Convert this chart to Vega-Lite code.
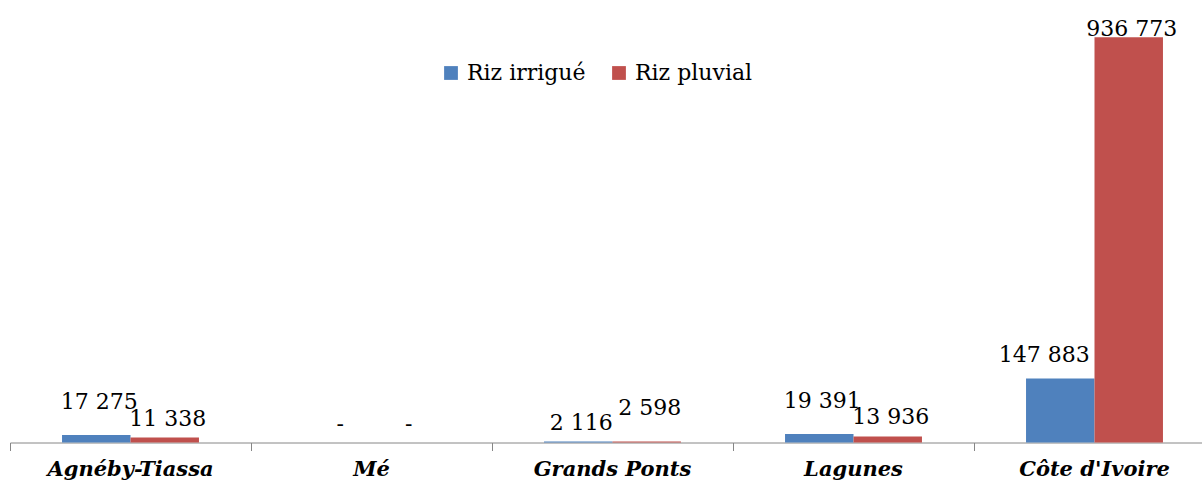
{
  "$schema": "https://vega.github.io/schema/vega-lite/v6.json",
  "width": 1192,
  "height": 432.5,
  "autosize": {"type": "none"},
  "padding": {"left": 10, "top": 10, "right": 0, "bottom": 43.5},
  "config": {
    "view": {"stroke": null},
    "font": "DejaVu Serif",
    "locale": {"number": {"decimal": ",", "thousands": " ", "grouping": [3], "currency": ["", " €"]}}
  },
  "data": {
    "values": [
      {"region": "Agnéby-Tiassa", "type": "Riz irrigué", "value": 17275},
      {"region": "Agnéby-Tiassa", "type": "Riz pluvial", "value": 11338},
      {"region": "Mé", "type": "Riz irrigué", "value": 0},
      {"region": "Mé", "type": "Riz pluvial", "value": 0},
      {"region": "Grands Ponts", "type": "Riz irrigué", "value": 2116},
      {"region": "Grands Ponts", "type": "Riz pluvial", "value": 2598},
      {"region": "Lagunes", "type": "Riz irrigué", "value": 19391},
      {"region": "Lagunes", "type": "Riz pluvial", "value": 13936},
      {"region": "Côte d'Ivoire", "type": "Riz irrigué", "value": 147883},
      {"region": "Côte d'Ivoire", "type": "Riz pluvial", "value": 936773}
    ]
  },
  "encoding": {
    "x": {
      "field": "region", "type": "nominal", "sort": null,
      "scale": {"range": [0, 1205], "paddingInner": 0, "paddingOuter": 0},
      "axis": {
        "title": null, "bandPosition": 0, "labelAngle": 0,
        "labelFont": "DejaVu Serif", "labelFontSize": 21, "labelFontWeight": "bold",
        "labelFontStyle": "italic", "labelColor": "black", "domainColor": "#868686",
        "tickColor": "#868686", "tickSize": 8, "labelPadding": 8, "grid": false, "domainWidth": 1, "tickWidth": 1
      }
    },
    "xOffset": {"field": "type", "type": "nominal", "sort": ["Riz irrigué", "Riz pluvial"], "scale": {"paddingOuter": 0.76, "paddingInner": 0}},
    "y": {"field": "value", "type": "quantitative", "scale": {"domain": [0, 1000000], "nice": false}, "axis": null},
    "text": {"condition": {"test": "datum.value == 0", "value": "-"}, "field": "value", "type": "quantitative", "format": ",d"}
  },
  "layer": [
    {
      "mark": {"type": "bar"},
      "encoding": {
        "color": {
          "field": "type", "type": "nominal",
          "scale": {"domain": ["Riz irrigué", "Riz pluvial"], "range": ["#4F81BD", "#C0504D"]},
          "legend": {
            "title": null, "orient": "none", "direction": "horizontal", "legendX": 430, "legendY": 52,
            "symbolType": "square", "symbolSize": 190, "symbolStrokeWidth": 0,
            "labelFont": "DejaVu Serif", "labelFontSize": 22, "labelColor": "black",
            "labelOffset": 5, "columnPadding": 22, "padding": 0, "labelLimit": 300
          }
        }
      }
    },
    {
      "transform": [{"filter": "datum.value < 100000 && !((datum.region == 'Agnéby-Tiassa' && datum.type == 'Riz irrigué') || (datum.region == 'Grands Ponts' && datum.type == 'Riz pluvial') || (datum.region == 'Lagunes' && datum.type == 'Riz irrigué'))"}],
      "mark": {"type": "text", "baseline": "alphabetic", "dy": -12, "dx": 3, "fontSize": 22, "font": "DejaVu Serif", "color": "black"}
    },
    {
      "transform": [{"filter": "(datum.region == 'Agnéby-Tiassa' && datum.type == 'Riz irrigué') || (datum.region == 'Grands Ponts' && datum.type == 'Riz pluvial') || (datum.region == 'Lagunes' && datum.type == 'Riz irrigué')"}],
      "mark": {"type": "text", "baseline": "alphabetic", "dy": -26, "dx": 3, "fontSize": 22, "font": "DejaVu Serif", "color": "black"}
    },
    {
      "transform": [{"filter": "datum.region == 'Côte d\\'Ivoire' && datum.type == 'Riz irrigué'"}],
      "mark": {"type": "text", "baseline": "alphabetic", "dy": -17, "dx": -16, "fontSize": 22, "font": "DejaVu Serif", "color": "black"}
    },
    {
      "transform": [{"filter": "datum.region == 'Côte d\\'Ivoire' && datum.type == 'Riz pluvial'"}],
      "mark": {"type": "text", "baseline": "alphabetic", "dy": -1, "dx": 3, "fontSize": 22, "font": "DejaVu Serif", "color": "black"}
    }
  ]
}
